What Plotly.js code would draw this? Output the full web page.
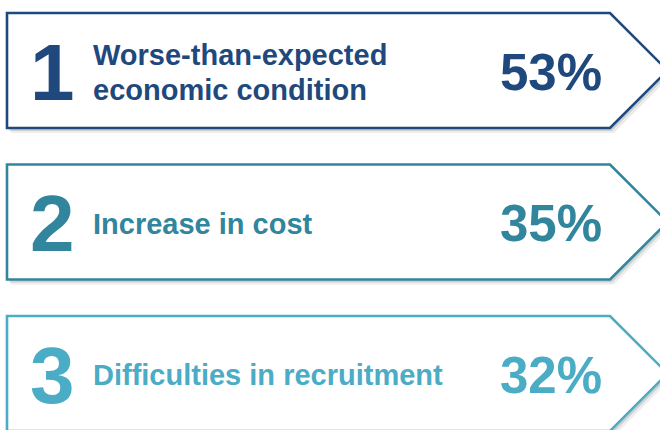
<!DOCTYPE html>
<html>
<head>
<meta charset="utf-8">
<script src="https://cdn.plot.ly/plotly-3.0.1.min.js"></script>
<style>
  html, body { margin: 0; padding: 0; background: #fff; }
  #chart { width: 660px; height: 430px; }
</style>
</head>
<body>
<div id="chart"></div>
<script>
// survey results: top reasons
const ranks = ['1', '2', '3'];
const reasons = ['Worse-than-expected<br>economic condition', 'Increase in cost', 'Difficulties in recruitment'];
const shares = [53, 35, 32];

const palette = ['#1F497D', '#31859C', '#4BACC6'];
const FONT = 'Arial, "Liberation Sans", sans-serif';

// box geometry in axis units (axes are set to pixel-sized ranges)
const boxLeft = 7;
const boxShoulder = 610;
const boxTop0 = 13;
const boxStep = 151.5;
const boxH = 115;
const lineGap = 35;

function arrowPath(dx, dy, top) {
  const l = boxLeft + dx, s = boxShoulder + dx, t = top + dy, b = top + boxH + dy;
  const tip = s + boxH / 2;
  const mid = (t + b) / 2;
  return `M ${l} ${t} L ${s} ${t} L ${tip} ${mid} L ${s} ${b} L ${l} ${b} Z`;
}

const shapes = [];
const annotations = [];

ranks.forEach((rank, i) => {
  const top = boxTop0 + i * boxStep;
  const mid = top + boxH / 2 + 1.5;
  const col = palette[i];

  // soft shadow
  shapes.push({ type: 'path', xref: 'x', yref: 'y', path: arrowPath(4, 5, top),
    fillcolor: 'rgba(0,0,0,0.07)', line: { width: 0 }, layer: 'above' });
  shapes.push({ type: 'path', xref: 'x', yref: 'y', path: arrowPath(2, 3, top),
    fillcolor: 'rgba(0,0,0,0.12)', line: { width: 0 }, layer: 'above' });
  // the box
  shapes.push({ type: 'path', xref: 'x', yref: 'y', path: arrowPath(0, 0, top),
    fillcolor: '#ffffff', line: { color: col, width: 2.6 }, layer: 'above' });

  annotations.push({
    x: 52, y: mid, xref: 'x', yref: 'y', text: rank, showarrow: false,
    xanchor: 'center', yanchor: 'middle',
    font: { family: FONT, size: 80, color: col, weight: 'bold' }
  });

  // label lines placed one by one for tighter leading
  const lines = reasons[i].split('<br>');
  lines.forEach((ln, k) => {
    annotations.push({
      x: 91, y: mid + (k - (lines.length - 1) / 2) * lineGap, xref: 'x', yref: 'y',
      text: ln, showarrow: false, xanchor: 'left', yanchor: 'middle', align: 'left',
      font: { family: FONT, size: 29, color: col, weight: 'bold' }
    });
  });

  annotations.push({
    x: 551, y: mid, xref: 'x', yref: 'y', text: shares[i] + '%', showarrow: false,
    xanchor: 'center', yanchor: 'middle',
    font: { family: FONT, size: 51, color: col, weight: 'bold' }
  });
});

const layout = {
  width: 660,
  height: 430,
  margin: { l: 0, r: 0, t: 0, b: 0 },
  paper_bgcolor: '#ffffff',
  plot_bgcolor: '#ffffff',
  showlegend: false,
  xaxis: { range: [0, 660], visible: false, fixedrange: true },
  yaxis: { range: [430, 0], visible: false, fixedrange: true },
  shapes: shapes,
  annotations: annotations
};

Plotly.newPlot('chart', [], layout, { displayModeBar: false, staticPlot: true });
</script>
</body>
</html>
